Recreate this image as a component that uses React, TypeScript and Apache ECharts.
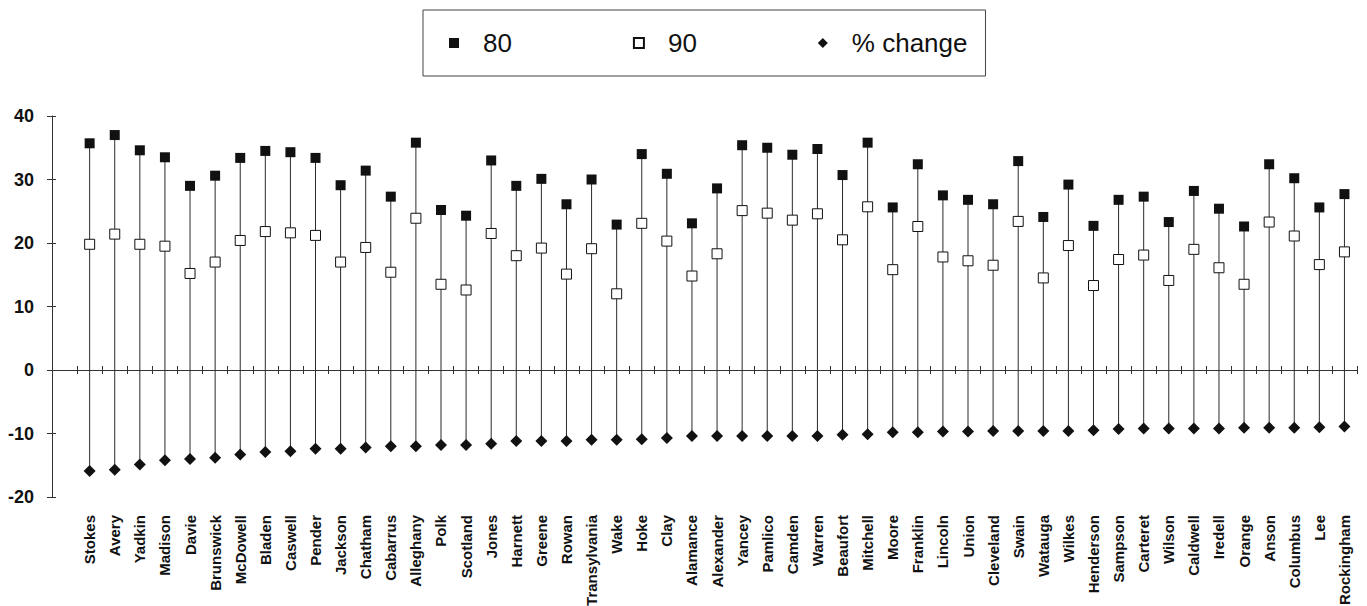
import React, { useEffect, useRef } from "react";
import * as echarts from "echarts";

// Counties, ordered by change between the two census years
const COUNTIES = [
  "Stokes", "Avery", "Yadkin", "Madison", "Davie", "Brunswick", "McDowell", "Bladen", "Caswell", "Pender",
  "Jackson", "Chatham", "Cabarrus", "Alleghany", "Polk", "Scotland", "Jones", "Harnett", "Greene", "Rowan",
  "Transylvania", "Wake", "Hoke", "Clay", "Alamance", "Alexander", "Yancey", "Pamlico", "Camden", "Warren",
  "Beaufort", "Mitchell", "Moore", "Franklin", "Lincoln", "Union", "Cleveland", "Swain", "Watauga", "Wilkes",
  "Henderson", "Sampson", "Carteret", "Wilson", "Caldwell", "Iredell", "Orange", "Anson", "Columbus", "Lee",
  "Rockingham",
];

const RATE_80 = [
  35.7, 37.0, 34.6, 33.5, 29.0, 30.6, 33.4, 34.5, 34.3, 33.4,
  29.1, 31.4, 27.3, 35.8, 25.2, 24.3, 33.0, 29.0, 30.1, 26.1,
  30.0, 22.9, 34.0, 30.9, 23.1, 28.6, 35.4, 35.0, 33.9, 34.8,
  30.7, 35.8, 25.6, 32.4, 27.5, 26.8, 26.1, 32.9, 24.1, 29.2,
  22.7, 26.8, 27.3, 23.3, 28.2, 25.4, 22.6, 32.4, 30.2, 25.6,
  27.7,
];

const RATE_90 = [
  19.8, 21.4, 19.8, 19.5, 15.2, 17.0, 20.4, 21.8, 21.6, 21.2,
  17.0, 19.3, 15.4, 23.9, 13.5, 12.6, 21.5, 18.0, 19.2, 15.1,
  19.1, 12.0, 23.1, 20.3, 14.8, 18.3, 25.1, 24.7, 23.6, 24.6,
  20.5, 25.7, 15.8, 22.6, 17.8, 17.2, 16.5, 23.4, 14.5, 19.6,
  13.3, 17.4, 18.1, 14.1, 19.0, 16.1, 13.5, 23.3, 21.1, 16.6,
  18.6,
];

const CHANGE = [
  -15.9, -15.7, -14.9, -14.2, -14.0, -13.8, -13.3, -12.9, -12.8, -12.4,
  -12.4, -12.2, -12.0, -12.0, -11.8, -11.8, -11.6, -11.2, -11.2, -11.2,
  -11.0, -11.0, -10.9, -10.7, -10.4, -10.4, -10.4, -10.4, -10.4, -10.4,
  -10.2, -10.1, -9.8, -9.8, -9.7, -9.7, -9.6, -9.6, -9.6, -9.6,
  -9.5, -9.3, -9.2, -9.2, -9.2, -9.2, -9.1, -9.1, -9.1, -9.0,
  -8.9,
];

const Y_MIN = -20;
const Y_MAX = 40;
const Y_STEP = 10;

const NAME_80 = "80";
const NAME_90 = "90";
const NAME_CHANGE = "% change";

const INK = "#111";
const SANS = "'Liberation Sans', Arial, sans-serif";

export default function App() {
  const ref = useRef<HTMLDivElement>(null);

  useEffect(() => {
    if (!ref.current) return;
    const chart = echarts.init(ref.current, null, { renderer: "svg" });

    // An empty first slot leaves one category of room between the value axis and Stokes
    const slots = ["", ...COUNTIES];
    const pts = (vals: number[]) => COUNTIES.map((c, i) => [c, vals[i]]);
    const stems = COUNTIES.map((c, i) => [c, RATE_80[i], CHANGE[i]]);

    const hiddenLabels = { show: false };

    chart.setOption({
      animation: false,
      backgroundColor: "#fff",
      grid: {
        left: 52,
        right: 10,
        top: 116,
        bottom: 109,
        containLabel: false,
        outerBoundsMode: "none",
      },
      legend: {
        data: [
          { name: NAME_80, icon: "rect" },
          { name: NAME_90, icon: "rect" },
          { name: NAME_CHANGE, icon: "diamond" },
        ],
        selectedMode: false,
        left: 423,
        top: 10,
        padding: [17, 18, 17, 26],
        itemGap: 121,
        itemWidth: 10,
        itemHeight: 10,
        borderColor: "#444",
        borderWidth: 1,
        textStyle: {
          fontFamily: SANS,
          fontSize: 26,
          color: INK,
          lineHeight: 32,
          padding: [0, 0, 0, 19],
        },
      },
      xAxis: [
        {
          // zero line with the outer half of its ticks
          type: "category",
          data: slots,
          position: "bottom",
          boundaryGap: true,
          axisLine: { show: true, onZero: true, lineStyle: { color: "#333", width: 1 } },
          axisTick: { show: true, length: 4, interval: 0, lineStyle: { color: "#333" } },
          axisLabel: hiddenLabels,
          splitLine: { show: false },
        },
        {
          // county names along the foot of the plot
          type: "category",
          data: slots,
          position: "bottom",
          boundaryGap: true,
          axisLine: { show: false, onZero: false },
          axisTick: { show: false },
          axisLabel: {
            show: true,
            interval: 0,
            rotate: 90,
            margin: 18,
            fontFamily: SANS,
            fontWeight: "bold",
            fontSize: 15,
            color: INK,
          },
          splitLine: { show: false },
        },
        {
          // inner half of the zero line's ticks
          type: "category",
          data: slots,
          position: "bottom",
          boundaryGap: true,
          axisLine: { show: false, onZero: true },
          axisTick: { show: true, inside: true, length: 4, interval: 0, lineStyle: { color: "#333" } },
          axisLabel: hiddenLabels,
          splitLine: { show: false },
        },
      ],
      yAxis: [
        {
          type: "value",
          min: Y_MIN,
          max: Y_MAX,
          interval: Y_STEP,
          position: "left",
          axisLine: { show: true, lineStyle: { color: "#333", width: 1 } },
          axisTick: { show: true, length: 5, lineStyle: { color: "#333" } },
          axisLabel: {
            margin: 18,
            fontFamily: SANS,
            fontWeight: "bold",
            fontSize: 18,
            color: INK,
          },
          splitLine: { show: false },
        },
        {
          type: "value",
          min: Y_MIN,
          max: Y_MAX,
          interval: Y_STEP,
          position: "left",
          axisLine: { show: false },
          axisTick: { show: true, inside: true, length: 4, lineStyle: { color: "#333" } },
          axisLabel: hiddenLabels,
          splitLine: { show: false },
        },
      ],
      series: [
        {
          // drop line from the 1980 value down to the change marker
          type: "custom",
          name: "stem",
          xAxisIndex: 0,
          yAxisIndex: 0,
          z: 1,
          encode: { x: 0, y: [1, 2] },
          data: stems,
          renderItem: (_params: any, api: any) => {
            const top = api.coord([api.value(0), api.value(1)]);
            const bottom = api.coord([api.value(0), api.value(2)]);
            return {
              type: "line",
              shape: { x1: top[0], y1: top[1], x2: bottom[0], y2: bottom[1] },
              style: { stroke: "#2a2a2a", lineWidth: 1 },
            };
          },
        },
        {
          type: "scatter",
          name: NAME_80,
          xAxisIndex: 0,
          yAxisIndex: 0,
          z: 3,
          symbol: "rect",
          symbolSize: 10,
          itemStyle: { color: INK, opacity: 1 },
          data: pts(RATE_80),
        },
        {
          type: "scatter",
          name: NAME_90,
          xAxisIndex: 0,
          yAxisIndex: 0,
          z: 3,
          symbol: "rect",
          symbolSize: 10,
          itemStyle: { color: "#fff", borderColor: INK, borderWidth: 1, opacity: 1 },
          data: pts(RATE_90),
        },
        {
          type: "scatter",
          name: NAME_CHANGE,
          xAxisIndex: 0,
          yAxisIndex: 0,
          z: 3,
          symbol: "diamond",
          symbolSize: [12, 12],
          itemStyle: { color: INK, opacity: 1 },
          data: pts(CHANGE),
        },
      ],
    });

    return () => chart.dispose();
  }, []);

  return (
    <div
      ref={ref}
      style={{ position: "fixed", left: 0, top: 0, width: 1367, height: 606, background: "#fff" }}
    />
  );
}
